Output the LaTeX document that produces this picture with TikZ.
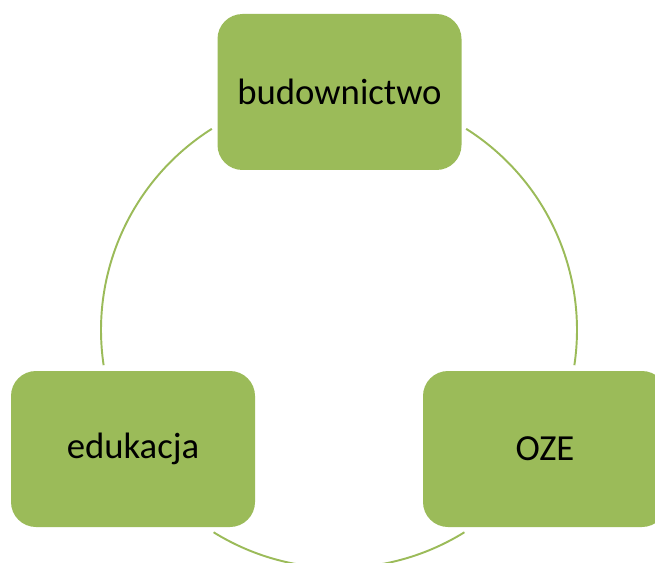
\documentclass[tikz,border=0pt]{standalone}
\usepackage{fontspec}
\setmainfont{Carlito}
\usepackage{tikz}
\usetikzlibrary{positioning,calc}
\definecolor{leafGreen}{RGB}{155, 187, 89}

\begin{document}
\begin{tikzpicture}[
      stage/.style={draw=none, fill=leafGreen, rounded corners=0.5cm, minimum width=4.88cm, minimum height=3.12cm, align=center, font=\fontsize{20.9pt}{25pt}\selectfont, text=black, inner sep=0pt},
      link/.style={draw=leafGreen, line width=1.1pt}
  ]
      \useasboundingbox (0, 0) rectangle (13.1, -11.26);

      % CYCLE
      \coordinate (hub) at (6.78, -6.6);
      \draw[link] ($(hub)+(122.3:4.76)$) arc[start angle=122.3, end angle=188.5, radius=4.76];
      \draw[link] ($(hub)+(238.2:4.76)$) arc[start angle=238.2, end angle=301.8, radius=4.76];
      \draw[link] ($(hub)+(-8.5:4.76)$) arc[start angle=-8.5, end angle=57.7, radius=4.76];

      % STAGES
      \node[stage] (bud) at (6.79, -1.84) {budownictwo};
      \node[stage] (oze) at (10.9, -8.98) {OZE};
      \node[stage] (edu) at (2.66, -8.98) {edukacja};
  \end{tikzpicture}
\end{document}
